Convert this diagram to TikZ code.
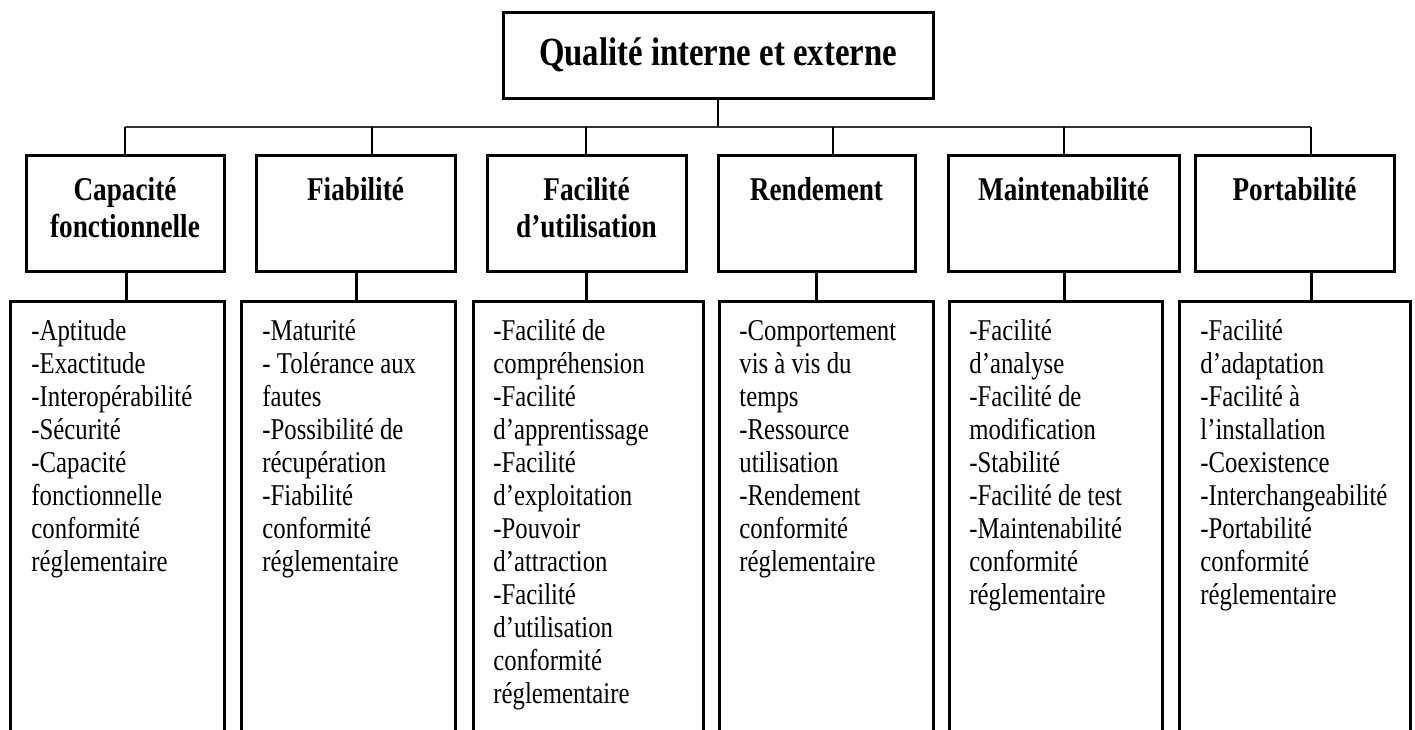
\documentclass[tikz,border=0pt]{standalone}
\usepackage{fontspec}
\setmainfont{Liberation Serif}[FakeStretch=0.82]
\begin{document}
\begin{tikzpicture}[x=0.5pt,y=-0.5pt,
  box/.style={draw=black,line width=1.5pt,rectangle,inner sep=0pt},
  headtxt/.style={align=center,inner sep=0pt,anchor=north,font=\fontsize{16.6pt}{18.5pt}\selectfont\bfseries},
  bodytxt/.style={align=left,inner sep=0pt,anchor=north west,font=\fontsize{15.1pt}{16.5pt}\selectfont},
  busline/.style={draw=black!80,line width=1pt},
  stem/.style={draw=black,line width=1.3pt}]
\useasboundingbox (0,0) rectangle (1415,729);
% top
\node[box,minimum width=215pt,minimum height=43pt,font=\fontsize{20pt}{24pt}\selectfont\bfseries] (top) at (718,55) {Qualité interne et externe};
% middle boxes
\node[box,minimum width=99pt,minimum height=58pt] (m1) at (125,213) {};
\node[box,minimum width=99.5pt,minimum height=58pt] (m2) at (355.5,213) {};
\node[box,minimum width=99.5pt,minimum height=58pt] (m3) at (586.5,213) {};
\node[box,minimum width=98.5pt,minimum height=58pt] (m4) at (816.5,213) {};
\node[box,minimum width=115.5pt,minimum height=58pt] (m5) at (1063.5,213) {};
\node[box,minimum width=99.5pt,minimum height=58pt] (m6) at (1294.5,213) {};
\node[headtxt] (h1) at (125,170) {\rule{0pt}{15pt}Capacité\\fonctionnelle};
\node[headtxt] (h2) at (355.5,170) {\rule{0pt}{15pt}Fiabilité};
\node[headtxt] (h3) at (586.5,170) {\rule{0pt}{15pt}Facilité\\d’utilisation};
\node[headtxt] (h4) at (816.5,170) {\rule{0pt}{15pt}Rendement};
\node[headtxt] (h5) at (1063.5,170) {\rule{0pt}{15pt}Maintenabilité};
\node[headtxt] (h6) at (1294.5,170) {\rule{0pt}{15pt}Portabilité};
% lower boxes
\node[box,anchor=north west,minimum width=107pt,minimum height=250pt] (l1) at (9,300) {};
\node[box,anchor=north west,minimum width=107pt,minimum height=250pt] (l2) at (240,300) {};
\node[box,anchor=north west,minimum width=115pt,minimum height=250pt] (l3) at (472,300) {};
\node[box,anchor=north west,minimum width=107pt,minimum height=250pt] (l4) at (718,300) {};
\node[box,anchor=north west,minimum width=106.5pt,minimum height=250pt] (l5) at (948,300) {};
\node[box,anchor=north west,minimum width=115.5pt,minimum height=250pt] (l6) at (1178,300) {};
\node[bodytxt] (t1) at (31,312) {\rule{0pt}{14pt}-Aptitude\\-Exactitude\\-Interopérabilité\\-Sécurité\\-Capacité\\fonctionnelle\\conformité\\réglementaire};
\node[bodytxt] (t2) at (262,312) {\rule{0pt}{14pt}-Maturité\\- Tolérance aux\\fautes\\-Possibilité de\\récupération\\-Fiabilité\\conformité\\réglementaire};
\node[bodytxt] (t3) at (493,312) {\rule{0pt}{14pt}-Facilité de\\compréhension\\-Facilité\\d’apprentissage\\-Facilité\\d’exploitation\\-Pouvoir\\d’attraction\\-Facilité\\d’utilisation\\conformité\\réglementaire};
\node[bodytxt] (t4) at (739,312) {\rule{0pt}{14pt}-Comportement\\vis à vis du\\temps\\-Ressource\\utilisation\\-Rendement\\conformité\\réglementaire};
\node[bodytxt] (t5) at (969,312) {\rule{0pt}{14pt}-Facilité\\d’analyse\\-Facilité de\\modification\\-Stabilité\\-Facilité de test\\-Maintenabilité\\conformité\\réglementaire};
\node[bodytxt] (t6) at (1200,312) {\rule{0pt}{14pt}-Facilité\\d’adaptation\\-Facilité à\\l’installation\\-Coexistence\\-Interchangeabilité\\-Portabilité\\conformité\\réglementaire};
% connectors
\coordinate (bus) at (718,127);
\coordinate (b1) at (125,127);
\coordinate (b2) at (372,127);
\coordinate (b3) at (586,127);
\coordinate (b4) at (833,127);
\coordinate (b5) at (1064,127);
\coordinate (b6) at (1311,127);
\draw[stem] (top.south) -- (bus);
\draw[busline] (b1) -- (b6);
\foreach \i in {1,...,6} {\draw[stem] (b\i) -- (b\i |- m\i.north);}
\coordinate (s1) at (126,271);
\coordinate (s2) at (356,271);
\coordinate (s3) at (586,271);
\coordinate (s4) at (816,271);
\coordinate (s5) at (1064,271);
\coordinate (s6) at (1311,271);
\foreach \i in {1,...,6} {\draw[stem,line width=1.5pt] (s\i |- m\i.south) -- (s\i |- l\i.north);}
\end{tikzpicture}
\end{document}
